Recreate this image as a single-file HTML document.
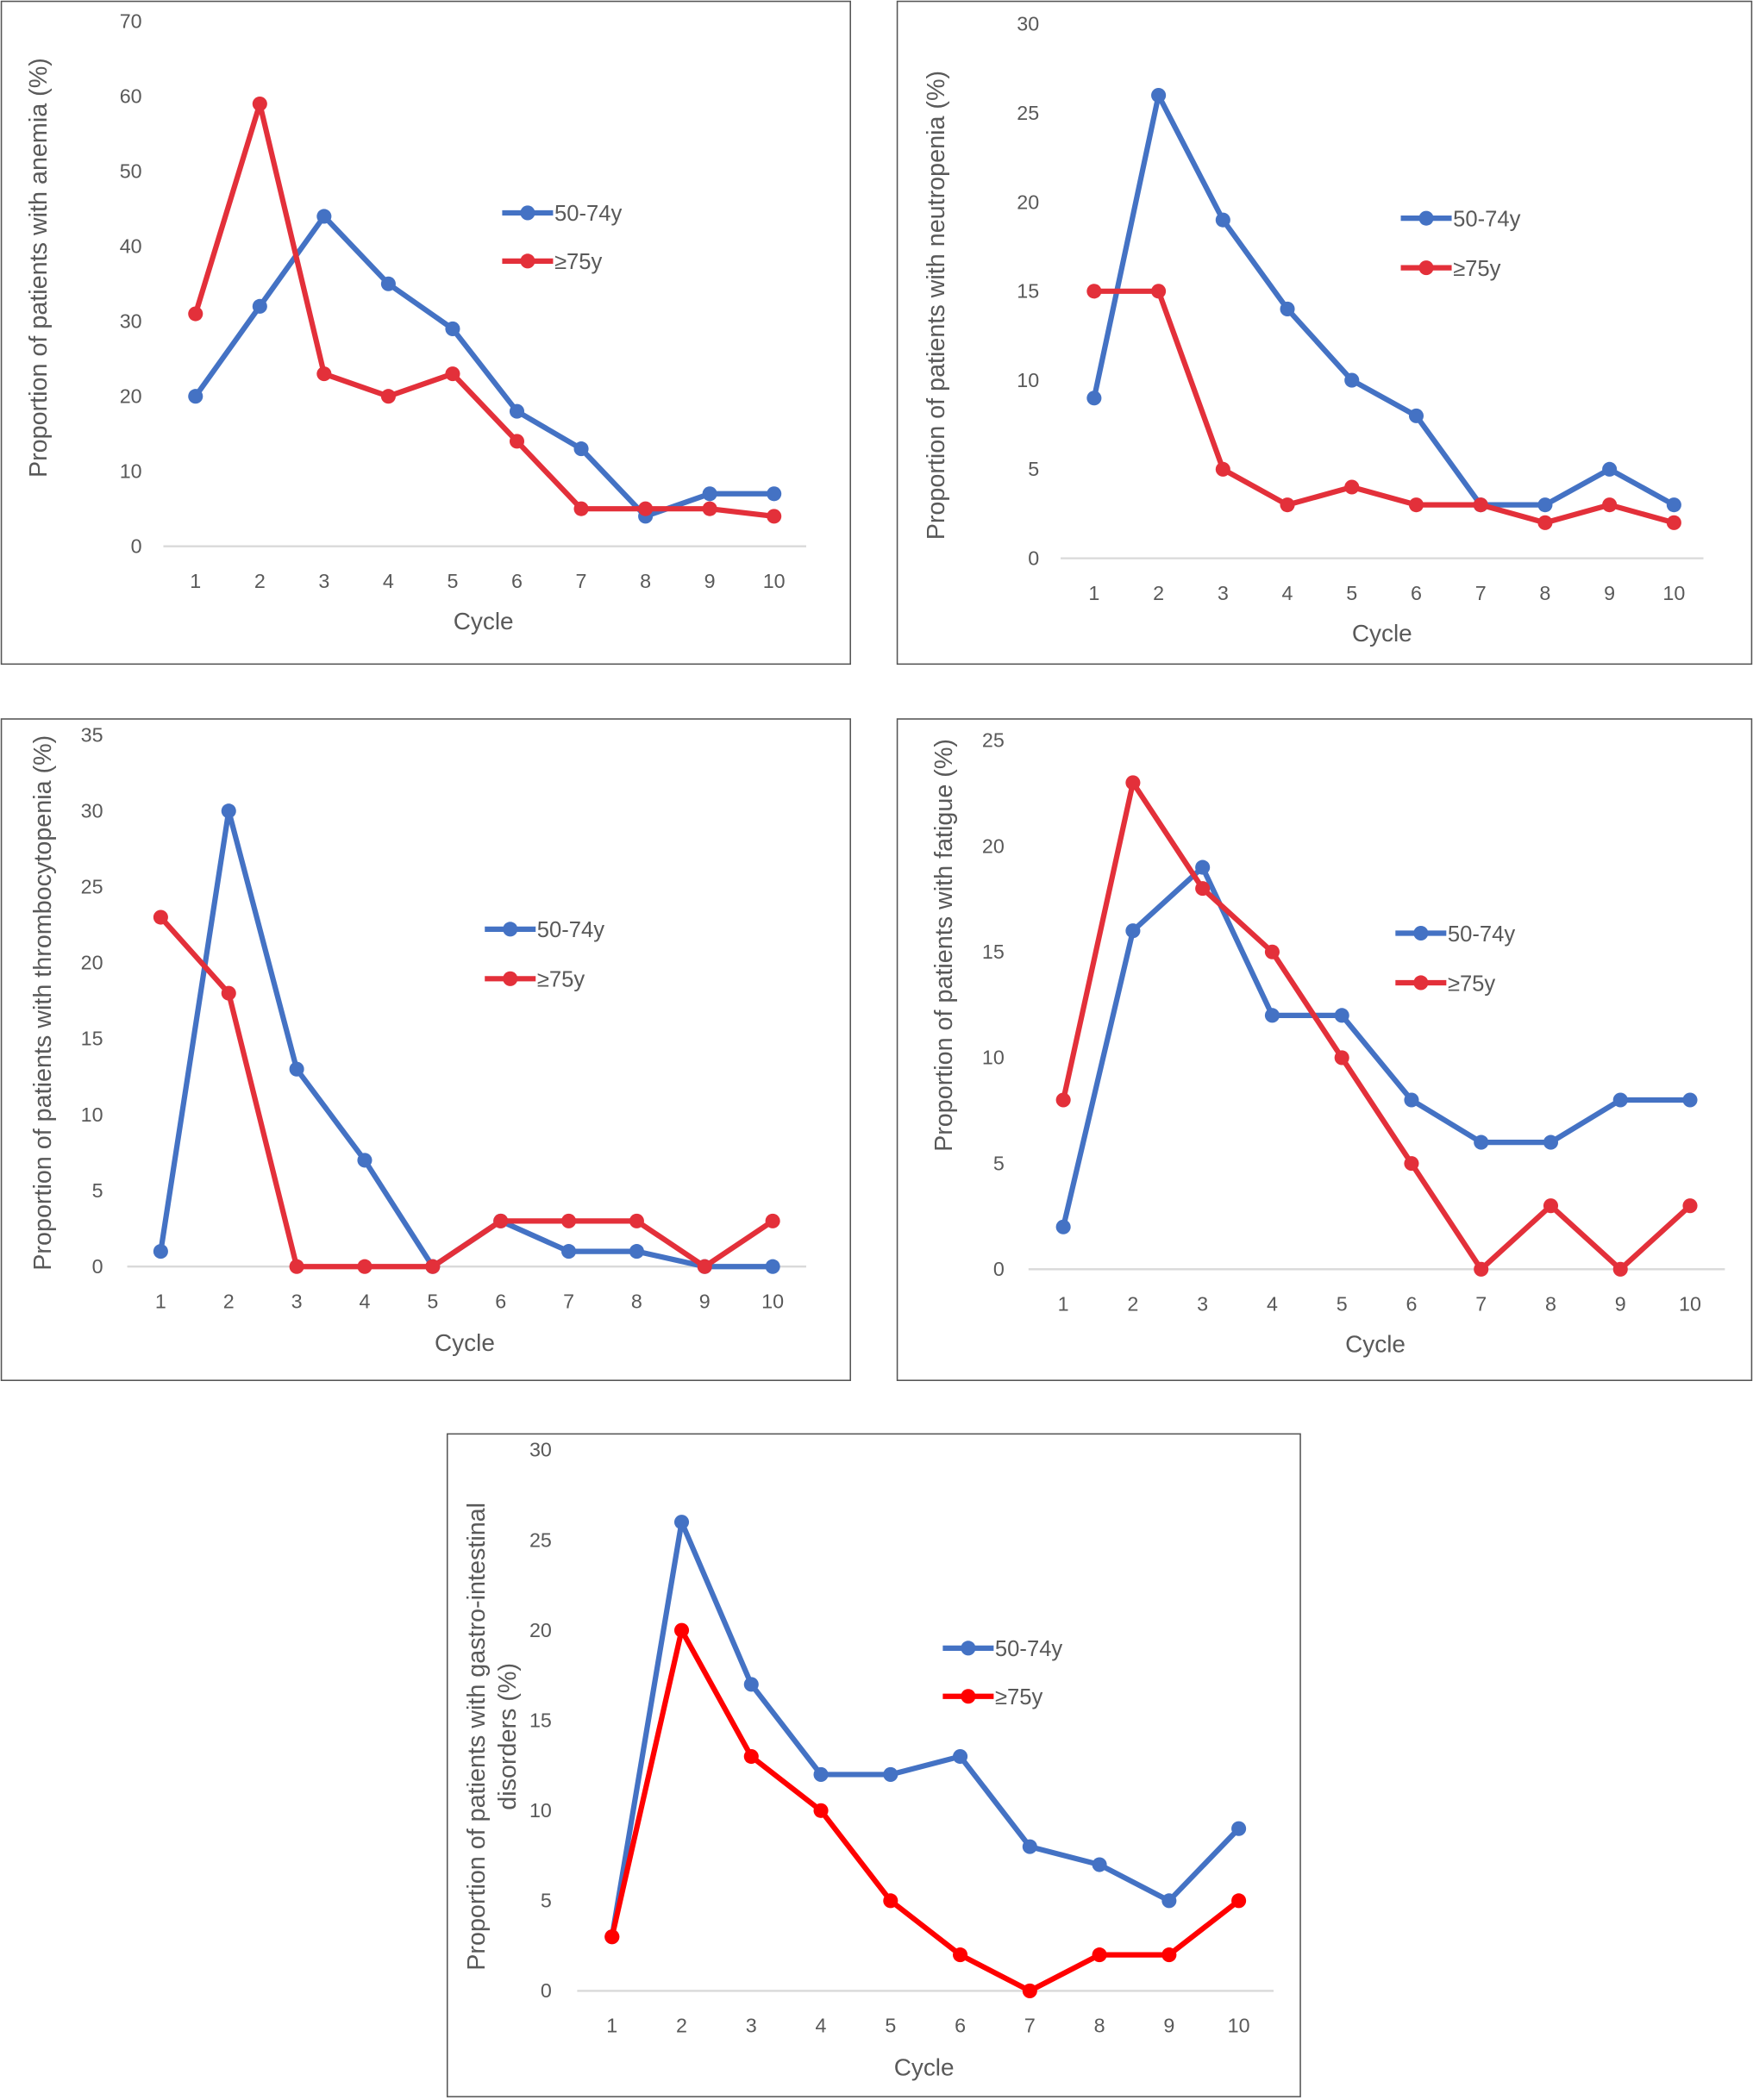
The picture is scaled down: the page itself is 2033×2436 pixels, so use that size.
<!DOCTYPE html>
<html><head><meta charset="utf-8"><style>
html,body{margin:0;padding:0;background:#fff;}
svg{display:block;font-family:"Liberation Sans",sans-serif;}
</style></head><body>
<svg id="root" width="2033" height="2436" viewBox="0 0 1309 1568.5" xmlns="http://www.w3.org/2000/svg"></svg>
<script>
const cycles = [1,2,3,4,5,6,7,8,9,10];
const anemiaBlue = [20,32,44,35,29,18,13,4,7,7];
const anemiaRed = [31,59,23,20,23,14,5,5,5,4];
const anemiaTicks = [0,10,20,30,40,50,60,70];
const neutroBlue = [9,26,19,14,10,8,3,3,5,3];
const neutroRed = [15,15,5,3,4,3,3,2,3,2];
const neutroTicks = [0,5,10,15,20,25,30];
const thromboBlue = [1,30,13,7,0,3,1,1,0,0];
const thromboRed = [23,18,0,0,0,3,3,3,0,3];
const thromboTicks = [0,5,10,15,20,25,30,35];
const fatigueBlue = [2,16,19,12,12,8,6,6,8,8];
const fatigueRed = [8,23,18,15,10,5,0,3,0,3];
const fatigueTicks = [0,5,10,15,20,25];
const giBlue = [3,26,17,12,12,13,8,7,5,9];
const giRed = [3,20,13,10,5,2,0,2,2,5];
const giTicks = [0,5,10,15,20,25,30];
const seriesNames = ["50-74y","≥75y"];

const NS="http://www.w3.org/2000/svg";
const root=document.getElementById('root');
function mk(tag,attrs,parent){const e=document.createElementNS(NS,tag);for(const k in attrs)e.setAttribute(k,attrs[k]);parent.appendChild(e);return e;}

const panels=[
 {id:'anemia',box:[1,1,634,495],x1:146,x10:578,y0:408,yTop:16,axL:122,axR:602,tickX:106,ticks:anemiaTicks,blue:anemiaBlue,red:anemiaRed,
  cyc:[361,470],leg:[375,159,195],title:["Proportion of patients with anemia (%)"],titleX:[30],titleY:200,redC:'#e3303a'},
 {id:'neutropenia',box:[670,1,638,495],x1:817,x10:1250,y0:417,yTop:18,axL:792,axR:1272,tickX:776,ticks:neutroTicks,blue:neutroBlue,red:neutroRed,
  cyc:[1032,479],leg:[1046,163,200],title:["Proportion of patients with neutropenia (%)"],titleX:[700],titleY:228,redC:'#e3303a'},
 {id:'thrombocytopenia',box:[1,537,634,494],x1:120,x10:577,y0:946,yTop:549,axL:95,axR:602,tickX:77,ticks:thromboTicks,blue:thromboBlue,red:thromboRed,
  cyc:[347,1009],leg:[362,694,731],title:["Proportion of patients with thrombocytopenia (%)"],titleX:[33],titleY:749,redC:'#e3303a'},
 {id:'fatigue',box:[670,537,638,494],x1:794,x10:1262,y0:948,yTop:553,axL:768,axR:1288,tickX:750,ticks:fatigueTicks,blue:fatigueBlue,red:fatigueRed,
  cyc:[1027,1010],leg:[1042,697,734],title:["Proportion of patients with fatigue (%)"],titleX:[706],titleY:706,redC:'#e3303a'},
 {id:'gi',box:[334,1071,637,495],x1:457,x10:925,y0:1487,yTop:1083,axL:431,axR:951,tickX:412,ticks:giTicks,blue:giBlue,red:giRed,
  cyc:[690,1550],leg:[704,1231,1267],title:["Proportion of patients with gastro-intestinal","disorders (%)"],titleX:[357,380],titleY:1297,redC:'#ff0000'}
];

panels.forEach(p=>{
  const g=mk('g',{},root);
  
  
  const b=mk('rect',{x:p.box[0],y:p.box[1],width:p.box[2],height:p.box[3],fill:'#fff',stroke:'#555','stroke-width':1},g);
  
  
  const tmax=p.ticks[p.ticks.length-1];
  const ys=v=>p.y0-(v/tmax)*(p.y0-p.yTop);
  const xs=c=>p.x1+(c-1)*(p.x10-p.x1)/9;
  const ax=mk('line',{x1:p.axL,x2:p.axR,y1:p.y0,y2:p.y0,stroke:'#d9d9d9','stroke-width':1.5},g);
  
  
  p.ticks.forEach(t=>{
    const e=mk('text',{x:p.tickX,y:ys(t)+5,'text-anchor':'end','font-size':15,fill:'#595959'},g);
    
    
    e.textContent=t;
  });
  cycles.forEach(c=>{
    const e=mk('text',{x:xs(c),y:p.y0+31,'text-anchor':'middle','font-size':15,fill:'#595959'},g);
    
    
    e.textContent=c;
  });
  const ct=mk('text',{x:p.cyc[0],y:p.cyc[1],'text-anchor':'middle','font-size':18,fill:'#595959'},g);
  
  
  ct.textContent='Cycle';
  p.title.forEach((t,i)=>{
    const e=mk('text',{x:p.titleX[i],y:p.titleY,'text-anchor':'middle','font-size':18.5,fill:'#595959',transform:`rotate(-90 ${p.titleX[i]} ${p.titleY})`,'dominant-baseline':'middle'},g);
    
    
    e.textContent=t;
  });
  [[p.blue,'#4472c4','series-50-74y'],[p.red,p.redC,'series-75y']].forEach(([vals,col,nm])=>{
    const pts=vals.map((v,i)=>xs(cycles[i])+','+ys(v)).join(' ');
    const l=mk('polyline',{points:pts,fill:'none',stroke:col,'stroke-width':4,'stroke-linejoin':'round'},g);
    
    
    vals.forEach((v,i)=>{
      const c=mk('circle',{cx:xs(cycles[i]),cy:ys(v),r:5.5,fill:col},g);
      
      
    });
  });
  [['#4472c4',p.leg[1]],[p.redC,p.leg[2]]].forEach(([col,y],i)=>{
    const lg=mk('g',{},g);
    
    
    mk('line',{x1:p.leg[0],x2:p.leg[0]+38,y1:y,y2:y,stroke:col,'stroke-width':4},lg);
    mk('circle',{cx:p.leg[0]+19,cy:y,r:5.5,fill:col},lg);
    const t=mk('text',{x:p.leg[0]+39,y:y+6,'font-size':16.5,fill:'#595959'},lg);
    t.textContent=seriesNames[i];
  });
});
</script>
</body></html>
